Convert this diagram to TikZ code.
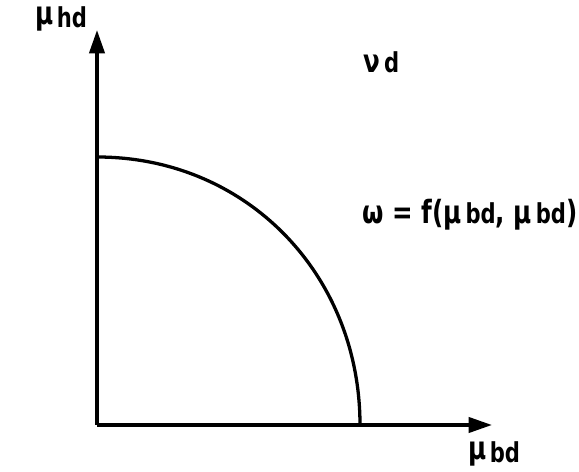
\documentclass[tikz,border=0pt]{standalone}
\usepackage{fontspec}
\usepackage{graphicx}
\setmainfont{DejaVu Sans}
\usetikzlibrary{arrows.meta,shapes}
\tikzstyle{axis}=[-{Triangle[length=20pt,width=13pt]}, line width=3pt]
\tikzstyle{lbl}=[inner sep=0pt, anchor=west, font=\fontsize{21}{24}\selectfont\bfseries]
\newcommand{\sub}[1]{{\fontsize{18}{20}\selectfont #1}}
\newcommand{\tall}[1]{\scalebox{1}[1.3]{#1}}

\begin{document}
\begin{tikzpicture}[x=0.03cm,y=0.03cm]
\useasboundingbox (-97,-47) rectangle (482,425);
\coordinate (O) at (0,0);
\coordinate (Y) at (0,395);
\coordinate (X) at (395,0);
\coordinate (top) at (0,268);
\coordinate (bot) at (263,0);
\draw[axis] (O)--(Y);
\draw[axis] (O)--(X);
\draw[line width=2.8pt] (top) .. controls (150,268) and (263,150) .. (bot);
\node[lbl] (muhd) at (-62,406) {\tall{μ\raisebox{-2pt}{\sub{\,hd}}}};
\node[lbl] (nud) at (266,363) {\tall{ν\,\sub{d}}};
\node[lbl] (om) at (265,210) {\tall{ω = f(μ\,\sub{bd}, μ\,\sub{bd})}};
\node[lbl] (mubd) at (371,-29) {\tall{μ\raisebox{-2pt}{\sub{\,bd}}}};
\end{tikzpicture}
\end{document}
